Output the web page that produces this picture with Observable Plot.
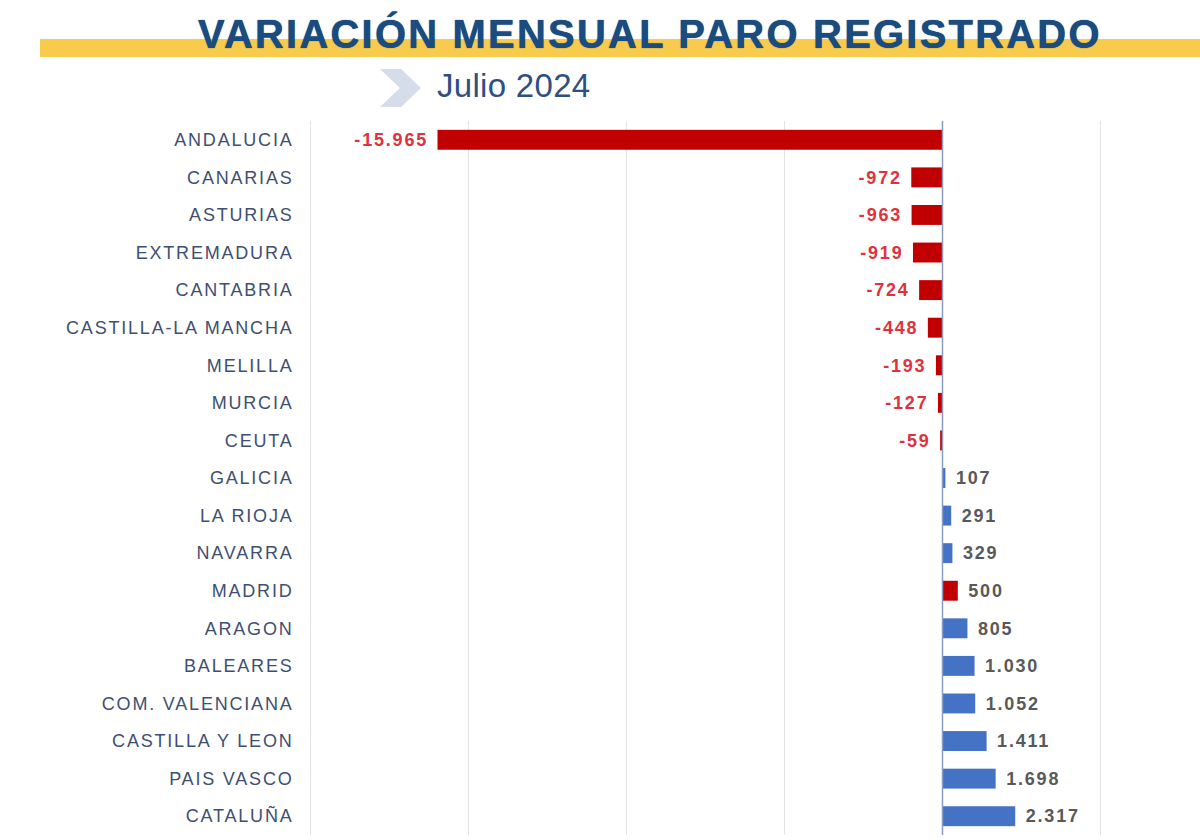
<!DOCTYPE html>
<html>
<head>
<meta charset="utf-8">
<script src="https://cdn.jsdelivr.net/npm/d3@7"></script>
<script src="https://cdn.jsdelivr.net/npm/@observablehq/plot@0.6"></script>
<style>
  html, body { margin: 0; padding: 0; background: #ffffff; }
  body { width: 1200px; height: 840px; overflow: hidden; font-family: "Liberation Sans", Arial, sans-serif; }
  #header { position: relative; width: 1200px; height: 115px; }
  #band { position: absolute; left: 40px; top: 39px; width: 1160px; height: 18px; background: #F9CB4C; }
  #title { position: absolute; left: 198px; top: 14px; font-size: 40px; line-height: 40px; font-weight: bold;
           color: #1B4C80; letter-spacing: 2.2px; white-space: nowrap; text-shadow: 0 0 1px #0e2f55; }
  #chev { position: absolute; left: 0; top: 0; }
  #subtitle { position: absolute; left: 437px; top: 69px; font-size: 33px; line-height: 33px; color: #2F4F7F;
              letter-spacing: 0.3px; white-space: nowrap; }
  #chart svg { display: block; }
  g[aria-label="y-axis tick label"] text { letter-spacing: 1.8px; }
  .vals text { letter-spacing: 1.8px; }
</style>
</head>
<body>
<div id="header">
  <div id="band"></div>
  <div id="title">VARIACIÓN MENSUAL PARO REGISTRADO</div>
  <svg id="chev" width="1200" height="115"><polygon points="380,69 401,69 421,88 401,107 380,107 400,88" fill="#D5DCEA"/></svg>
  <div id="subtitle">Julio 2024</div>
</div>
<div id="chart"></div>
<script>
const regions = ["ANDALUCIA", "CANARIAS", "ASTURIAS", "EXTREMADURA", "CANTABRIA", "CASTILLA-LA MANCHA",
  "MELILLA", "MURCIA", "CEUTA", "GALICIA", "LA RIOJA", "NAVARRA", "MADRID", "ARAGON", "BALEARES",
  "COM. VALENCIANA", "CASTILLA Y LEON", "PAIS VASCO", "CATALUÑA"];
const values = [-15965, -972, -963, -919, -724, -448, -193, -127, -59, 107, 291, 329, 500, 805, 1030,
  1052, 1411, 1698, 2317];
const highlighted = ["MADRID"];
const gridTicks = [-20000, -15000, -10000, -5000, 5000];

const data = regions.map((r, i) => ({region: r, value: values[i]}));
const locale = d3.formatLocale({decimal: ",", thousands: ".", grouping: [3], currency: ["", "€"], minus: "-"});
const fmt = locale.format(",d");

const RED = "#C00000", BLUE = "#4472C4";

const chart = Plot.plot({
  width: 1200,
  height: 725,
  marginTop: 6,
  marginBottom: 5,
  marginLeft: 310,
  marginRight: 100,
  style: {fontFamily: "'Liberation Sans', Arial, sans-serif", background: "transparent"},
  x: {domain: [-20000, 5000], axis: null},
  y: {domain: regions, paddingInner: 0.47, paddingOuter: 0.235, round: false, label: null},
  marks: [
    Plot.gridX({ticks: gridTicks, stroke: "#e4e4e4", strokeOpacity: 1}),
    Plot.barX(data, {x: "value", y: "region",
      fill: d => (d.value < 0 || highlighted.includes(d.region)) ? RED : BLUE}),
    Plot.ruleX([0], {stroke: "#8A9CC0", strokeWidth: 1.5}),
    Plot.axisY({tickSize: 0, tickPadding: 17, fontSize: 18, fill: "#3E4F72", label: null}),
    Plot.text(data.filter(d => d.value < 0), {x: "value", y: "region", text: d => fmt(d.value),
      textAnchor: "end", dx: -10, fill: "#E0323C", fontSize: 18, fontWeight: "bold", className: "vals"}),
    Plot.text(data.filter(d => d.value >= 0), {x: "value", y: "region", text: d => fmt(d.value),
      textAnchor: "start", dx: 10, fill: "#595959", fontSize: 18, fontWeight: "bold", className: "vals"})
  ]
});
document.getElementById("chart").appendChild(chart);
</script>
</body>
</html>
